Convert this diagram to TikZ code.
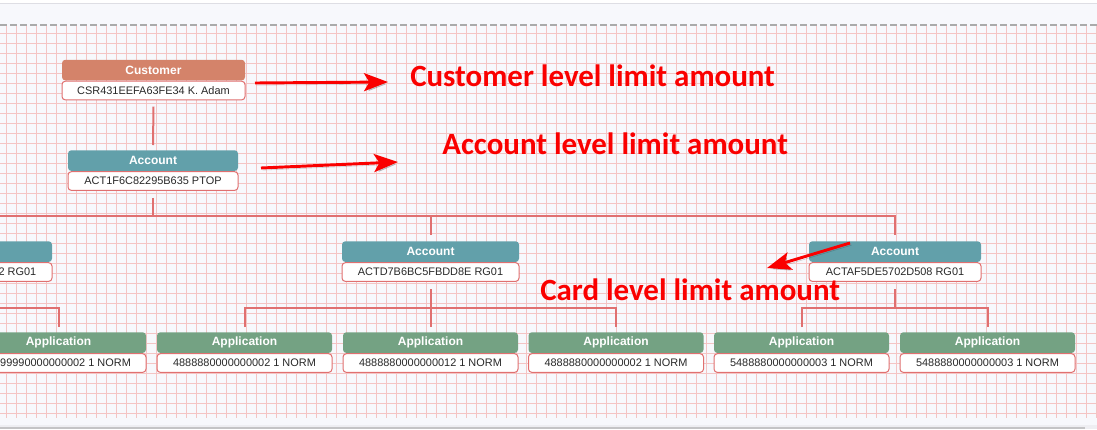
\documentclass[tikz,border=0pt]{standalone}
\usepackage{fontspec}
\setmainfont{Liberation Sans}
\newfontfamily\notefont{Carlito}
\usetikzlibrary{arrows.meta,positioning}
\definecolor{paperBg}{RGB}{247,248,252}
\definecolor{gridPink}{RGB}{244,196,196}
\definecolor{topRule}{RGB}{222,222,228}
\definecolor{dashGray}{RGB}{170,170,170}
\definecolor{barGray}{RGB}{196,196,198}
\definecolor{barLight}{RGB}{238,238,242}
\definecolor{linkRed}{RGB}{224,112,112}
\definecolor{custHead}{RGB}{212,131,106}
\definecolor{accHead}{RGB}{98,160,170}
\definecolor{appHead}{RGB}{116,162,131}
\definecolor{bodyText}{RGB}{40,40,40}
\definecolor{noteRed}{RGB}{250,0,0}

\begin{document}
\begin{tikzpicture}[x=0.75pt, y=-0.75pt,
  head/.style={rectangle, rounded corners=2.5pt, inner sep=0pt, minimum height=15.5pt, text=white, font=\fontsize{9}{10}\selectfont\bfseries, anchor=north},
  body/.style={rectangle, draw=linkRed, line width=0.75pt, fill=white, rounded corners=2.5pt, inner sep=0pt, minimum height=14pt, text=bodyText, font=\fontsize{8.2}{10}\selectfont},
  bodytext/.style={inner sep=0pt, anchor=east, text=bodyText, font=\fontsize{8.2}{10}\selectfont},
  link/.style={draw=linkRed, line width=1.5pt},
  note/.style={anchor=base west, inner sep=0pt, text=noteRed, font=\notefont\bfseries\fontsize{23.2}{26}\selectfont},
  callout/.style={draw=noteRed, line width=2.2pt, -{Stealth[length=18pt, width=13.5pt, inset=4pt]}, preaction={draw=black, opacity=0.18, transform canvas={shift={(1.2pt,-1.6pt)}}}}
]
\useasboundingbox (0,0) rectangle (1097,429);
\begin{scope}
\clip (0,0) rectangle (1097,429);
\fill[white] (0,0) rectangle (1097,429);
\fill[paperBg] (0,4) rectangle (1097,425);
\draw[topRule, line width=0.75pt] (0,3.5) -- (1097,3.5);
\foreach \gx in {6.5,16.5,...,1097} \draw[gridPink, line width=0.75pt] (\gx,26) -- (\gx,418);
\foreach \gy in {33.5,43.5,...,414} \draw[gridPink, line width=0.75pt] (0,\gy) -- (1097,\gy);
\draw[dashGray, line width=1.5pt, dash pattern=on 5pt off 2.5pt] (0,25) -- (1097,25);
\fill[barLight] (0,425) rectangle (1097,429);
\fill[barGray] (0,427) rectangle (1085,429);

\node[head, fill=custHead, minimum width=137.25pt] (cust) at (153.5,59.5) {Customer};
\node[body, minimum width=137.25pt, below=0pt of cust] (cust-b) {CSR431EEFA63FE34 K. Adam};

\node[head, fill=accHead, minimum width=127.5pt] (acc0) at (153,150) {Account};
\node[body, minimum width=127.5pt, below=0pt of acc0] (acc0-b) {ACT1F6C82295B635 PTOP};

\node[head, fill=accHead, minimum width=127.5pt] (accL) at (-33,241) {};
\node[body, minimum width=127.5pt, below=0pt of accL] (accL-b) {};
\node[bodytext] (accL-t) at ([xshift=-12pt]accL-b.east) {2 RG01};
\node[head, fill=accHead, minimum width=132.75pt] (accM) at (430.5,241) {Account};
\node[body, minimum width=132.75pt, below=0pt of accM] (accM-b) {ACTD7B6BC5FBDD8E RG01};
\node[head, fill=accHead, minimum width=129pt] (accR) at (895,241) {Account};
\node[body, minimum width=129pt, below=0pt of accR] (accR-b) {ACTAF5DE5702D508 RG01};

\node[head, fill=appHead, minimum width=131.25pt] (appL) at (58.5,332) {Application};
\node[body, minimum width=131.25pt, below=0pt of appL] (appL-b) {};
\node[bodytext] (appL-t) at ([xshift=-11.5pt]appL-b.east) {99990000000002 1 NORM};
\node[head, fill=appHead, minimum width=131.25pt] (app1) at (244.5,332) {Application};
\node[body, minimum width=131.25pt, below=0pt of app1] (app1-b) {4888880000000002 1 NORM};
\node[head, fill=appHead, minimum width=131.25pt] (app2) at (430.5,332) {Application};
\node[body, minimum width=131.25pt, below=0pt of app2] (app2-b) {4888880000000012 1 NORM};
\node[head, fill=appHead, minimum width=131.25pt] (app3) at (616,332) {Application};
\node[body, minimum width=131.25pt, below=0pt of app3] (app3-b) {4888880000000002 1 NORM};
\node[head, fill=appHead, minimum width=131.25pt] (app4) at (801.5,332) {Application};
\node[body, minimum width=131.25pt, below=0pt of app4] (app4-b) {5488880000000003 1 NORM};
\node[head, fill=appHead, minimum width=131.25pt] (app5) at (987.5,332) {Application};
\node[body, minimum width=131.25pt, below=0pt of app5] (app5-b) {5488880000000003 1 NORM};

\coordinate (bus0) at (153,216);
\coordinate (busL) at (-33,308);
\coordinate (busM) at (430.5,308);
\coordinate (busR) at (895,308);

\draw[link] ([yshift=-4.7pt]cust-b.south) -- ([yshift=3.75pt]acc0.north);
\draw[link] ([yshift=-5.25pt]acc0-b.south) -- (bus0);
\draw[link] ([yshift=4.5pt]accL.north) |- (bus0) -| ([yshift=4.5pt]accR.north);
\draw[link] (bus0 -| accM.north) -- ([yshift=4.5pt]accM.north);
\draw[link] ([yshift=-5.5pt]accL-b.south) -- (busL) -| ([yshift=3.75pt]appL.north);
\draw[link] ([yshift=-5.5pt]accM-b.south) -- ([yshift=3.75pt]app2.north);
\draw[link] ([yshift=3.75pt]app1.north) |- (busM) -| ([yshift=3.75pt]app3.north);
\draw[link] ([yshift=-5.5pt]accR-b.south) -- (busR);
\draw[link] ([yshift=3.75pt]app4.north) |- (busR) -| ([yshift=3.75pt]app5.north);

\node[note] (noteCust) at (410,86) {Customer level limit amount};
\node[note] (noteAcc) at (442,154) {Account level limit amount};
\node[note] (noteCard) at (540,300) {Card level limit amount};

\coordinate (c1from) at (255,83);
\coordinate (c1to) at (388,82);
\coordinate (c2from) at (261,168);
\coordinate (c2to) at (398,162);
\coordinate (c3from) at (850,243);
\coordinate (c3to) at (767,268);
\draw[callout] (c1from) -- (c1to);
\draw[callout] (c2from) -- (c2to);
\draw[callout] (c3from) -- (c3to);
\end{scope}
\end{tikzpicture}
\end{document}
